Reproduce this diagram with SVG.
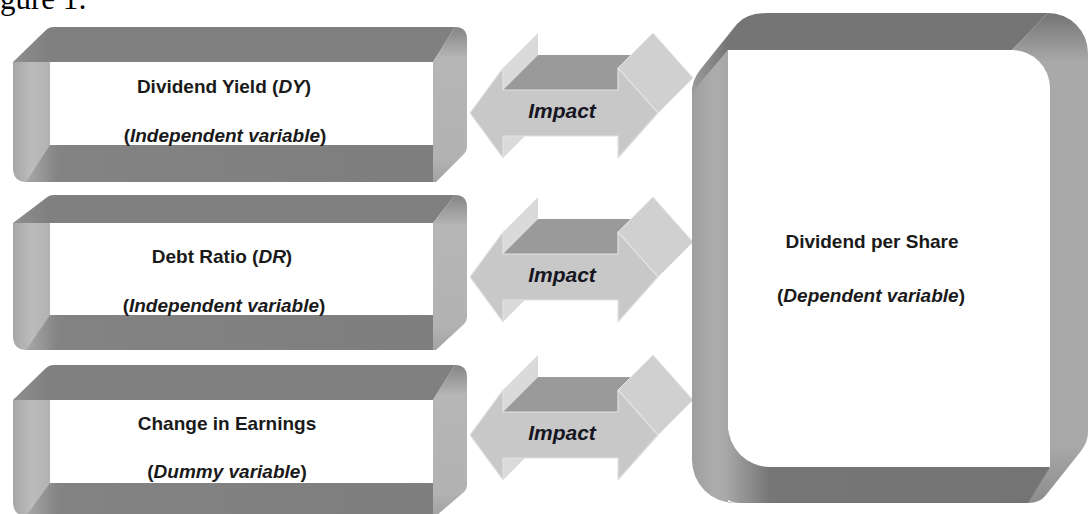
<svg xmlns="http://www.w3.org/2000/svg" width="1089" height="514" viewBox="0 0 1089 514">
<style>
.wh{fill:#ffffff}
.t{font-family:"Liberation Sans",Arial,sans-serif;font-weight:bold;font-size:19px;fill:#1a1a1a;text-anchor:middle}
.i{font-style:italic}
.imp{font-family:"Liberation Sans",Arial,sans-serif;font-weight:bold;font-style:italic;font-size:21px;fill:#161622;text-anchor:middle}
.af{fill:#c8c8c8;stroke:#e2e2e2;stroke-width:1.2;stroke-linejoin:round}
.as{fill:#dadada}
.at{fill:#9a9a9a}
.ah{fill:#d0d0d0;stroke:#e4e4e4;stroke-width:1}
.cap{font-family:"Liberation Serif","Times New Roman",serif;font-size:31px;fill:#000}
</style>
<defs>
<linearGradient id="gLeft" x1="0" y1="0" x2="1" y2="0"><stop offset="0" stop-color="#a6a6a6"/><stop offset="0.5" stop-color="#bcbcbc"/><stop offset="1" stop-color="#b2b2b2"/></linearGradient>
<linearGradient id="gRight" x1="0" y1="0" x2="0" y2="1"><stop offset="0" stop-color="#858585"/><stop offset="0.2" stop-color="#b6b6b6"/><stop offset="0.85" stop-color="#b2b2b2"/><stop offset="1" stop-color="#a2a2a2"/></linearGradient>
<linearGradient id="gBot" x1="0" y1="0" x2="1" y2="0"><stop offset="0" stop-color="#a8a8a8"/><stop offset="0.08" stop-color="#838383"/><stop offset="1" stop-color="#7e7e7e"/></linearGradient>
<linearGradient id="gTop" x1="0" y1="0" x2="1" y2="0"><stop offset="0" stop-color="#8e8e8e"/><stop offset="0.08" stop-color="#808080"/><stop offset="1" stop-color="#808080"/></linearGradient>
<linearGradient id="gBLeft" x1="0" y1="0" x2="1" y2="0"><stop offset="0" stop-color="#9e9e9e"/><stop offset="0.5" stop-color="#acacac"/><stop offset="1" stop-color="#a6a6a6"/></linearGradient>
<linearGradient id="gBRight" x1="0" y1="0" x2="0" y2="1"><stop offset="0" stop-color="#747474"/><stop offset="0.1" stop-color="#a9a9a9"/><stop offset="0.88" stop-color="#a9a9a9"/><stop offset="1" stop-color="#8c8c8c"/></linearGradient>
<linearGradient id="gBBot" x1="0" y1="0" x2="1" y2="0"><stop offset="0" stop-color="#a5a5a5"/><stop offset="0.13" stop-color="#767676"/><stop offset="1" stop-color="#747474"/></linearGradient>
<linearGradient id="gBTop" x1="0" y1="0" x2="1" y2="0"><stop offset="0" stop-color="#9a9a9a"/><stop offset="0.1" stop-color="#757575"/><stop offset="1" stop-color="#757575"/></linearGradient>
</defs>
<rect width="1089" height="514" fill="#ffffff"/>
<text class="cap" x="0" y="9">gure 1:</text>

<g id="connectors">
  <g id="arrow1">
    <polygon class="as" points="503,68 538,33 538,55 503,90"/>
    <polygon class="as" points="503,136 503,158 538,123 538,101"/>
    <polygon class="at" points="503,90 538,55 653,55 618,90"/>
    <polygon class="ah" points="618,68 653,33 693,78 658,113"/>
    <polygon class="af" points="470,113 503,68 503,90 618,90 618,68 658,113 618,158 618,136 503,136 503,158"/>
    <text class="imp" x="562" y="118">Impact</text>
  </g>
  <g id="arrow2">
    <polygon class="as" points="503,232 538,197 538,219 503,254"/>
    <polygon class="as" points="503,300 503,322 538,287 538,265"/>
    <polygon class="at" points="503,254 538,219 653,219 618,254"/>
    <polygon class="ah" points="618,232 653,197 693,242 658,277"/>
    <polygon class="af" points="470,277 503,232 503,254 618,254 618,232 658,277 618,322 618,300 503,300 503,322"/>
    <text class="imp" x="562" y="282">Impact</text>
  </g>
  <g id="arrow3">
    <polygon class="as" points="503,390 538,355 538,377 503,412"/>
    <polygon class="as" points="503,458 503,480 538,445 538,423"/>
    <polygon class="at" points="503,412 538,377 653,377 618,412"/>
    <polygon class="ah" points="618,390 653,355 693,400 658,435"/>
    <polygon class="af" points="470,435 503,390 503,412 618,412 618,390 658,435 618,480 618,458 503,458 503,480"/>
    <text class="imp" x="562" y="440">Impact</text>
  </g>
</g>

<g id="box-dy">
  <path fill="url(#gLeft)" d="M13,62 L50,62 L50,182 L27,182 Q13,182 13,168 Z"/>
  <path fill="url(#gTop)" d="M13,62 L46,30 Q49,27 54,27 L455,27 L433,62 Z"/>
  <path fill="url(#gBot)" d="M50,145 L433,145 L433,182 L26,182 Z"/>
  <path fill="url(#gRight)" d="M433,62 L455,27 Q467,27 467,39 L467,147 Q467,151 464,154 L436,182 L433,182 Z"/>
  <path class="wh" d="M50,62 L423,62 Q433,62 433,72 L433,145 L60,145 Q50,145 50,135 Z"/>
  <text class="t" x="224" y="93">Dividend Yield (<tspan class="i">DY</tspan>)</text>
  <text class="t" x="225" y="142">(<tspan class="i">Independent variable</tspan>)</text>
</g>

<g id="box-dr">
  <path fill="url(#gLeft)" d="M13,223 L50,223 L50,350 L27,350 Q13,350 13,336 Z"/>
  <path fill="url(#gTop)" d="M13,223 L46,198 Q49,195 54,195 L455,195 L433,223 Z"/>
  <path fill="url(#gBot)" d="M50,315 L433,315 L433,350 L26,350 Z"/>
  <path fill="url(#gRight)" d="M433,223 L455,195 Q467,195 467,207 L467,317 Q467,321 464,324 L436,350 L433,350 Z"/>
  <path class="wh" d="M50,223 L423,223 Q433,223 433,233 L433,315 L60,315 Q50,315 50,305 Z"/>
  <text class="t" x="222" y="263">Debt Ratio (<tspan class="i">DR</tspan>)</text>
  <text class="t" x="224" y="312">(<tspan class="i">Independent variable</tspan>)</text>
</g>

<g id="box-ce">
  <path fill="url(#gLeft)" d="M13,400 L50,400 L50,516 L27,516 Q13,516 13,502 Z"/>
  <path fill="url(#gTop)" d="M13,400 L46,368 Q49,365 54,365 L455,365 L433,400 Z"/>
  <path fill="url(#gBot)" d="M50,483 L433,483 L433,516 L26,516 Z"/>
  <path fill="url(#gRight)" d="M433,400 L455,365 Q467,365 467,377 L467,485 Q467,489 464,492 L436,516 L433,516 Z"/>
  <path class="wh" d="M50,400 L423,400 Q433,400 433,410 L433,483 L60,483 Q50,483 50,473 Z"/>
  <text class="t" x="227" y="430">Change in Earnings</text>
  <text class="t" x="227" y="478">(<tspan class="i">Dummy variable</tspan>)</text>
</g>

<g id="box-dps">
  <path fill="url(#gBLeft)" d="M692,88 L728,50 L728,503 L735,503 A43,43 0 0 1 692,460 Z"/>
  <path fill="url(#gBTop)" d="M692,92 Q692,80 700,70 L737,24 Q746,13 768,13 L1048,13 L1012,50 L728,50 Z"/>
  <path fill="url(#gBRight)" d="M1012,50 L1048,13 A40,40 0 0 1 1088,53 L1088,432 Q1088,442 1081,451 L1046,495 Q1040,503 1028,503 L1015,503 L1050,467 L1050,88 Z"/>
  <path fill="url(#gBBot)" d="M728,430 L1050,430 L1050,467 L1028,503 L740,503 Q733,503 728,500 Z"/>
  <path class="wh" d="M728,50 L1012,50 A38,38 0 0 1 1050,88 L1050,467 L770,467 A42,42 0 0 1 728,425 Z"/>
  <text class="t" x="872" y="248">Dividend per Share</text>
  <text class="t" x="871" y="302">(<tspan class="i">Dependent variable</tspan>)</text>
</g>
</svg>
